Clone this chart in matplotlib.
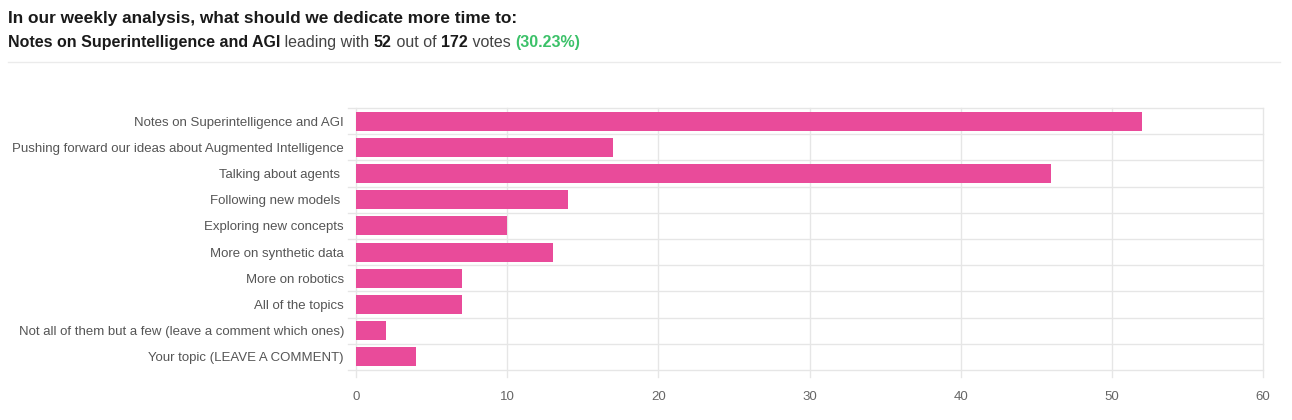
import matplotlib
matplotlib.use("Agg")
import matplotlib.pyplot as plt
from matplotlib.lines import Line2D

categories = [
    "Notes on Superintelligence and AGI",
    "Pushing forward our ideas about Augmented Intelligence",
    "Talking about agents ",
    "Following new models ",
    "Exploring new concepts",
    "More on synthetic data",
    "More on robotics",
    "All of the topics",
    "Not all of them but a few (leave a comment which ones)",
    "Your topic (LEAVE A COMMENT)",
]
votes = [52, 17, 46, 14, 10, 13, 7, 7, 2, 4]
xticks = [0, 10, 20, 30, 40, 50, 60]

title = "In our weekly analysis, what should we dedicate more time to:"
total = sum(votes)
lead = max(votes)
lead_name = categories[votes.index(lead)]

plt.rcParams['font.family'] = ['Liberation Sans', 'DejaVu Sans']

W, H = 1292, 420
fig = plt.figure(figsize=(W / 100, H / 100), dpi=100)
ax = fig.add_axes([356 / W, 1 - 370 / H, (1263 - 356) / W, (370 - 108) / H])

bar_color = "#E94B9A"
grid_color = "#E6E6E6"
n = len(categories)
ypos = list(range(n))
ax.barh(ypos, votes, height=0.72, color=bar_color, zorder=3)
ax.set_ylim(n - 0.5, -0.5)
ax.set_xlim(0, 60)

# grid
for x in xticks:
    ax.add_line(Line2D([x, x], [n - 0.5 + 0.27, -0.5], color=grid_color, lw=1, zorder=1, clip_on=False))
for b in range(n + 1):
    yb = b - 0.5
    ax.add_line(Line2D([-0.55, 60], [yb, yb], color=grid_color, lw=1, zorder=1, clip_on=False))

for s in ax.spines.values():
    s.set_visible(False)
ax.set_xticks(xticks)
ax.set_xticklabels([str(t) for t in xticks])
ax.set_yticks(ypos)
ax.set_yticklabels(categories)
ax.tick_params(axis='both', length=0, colors="#555555")
ax.tick_params(axis='y', labelsize=9.5, pad=8.7, labelcolor="#555555")
ax.tick_params(axis='x', labelsize=9.5, pad=15, labelcolor="#666666")

# header
fig.text(8 / W, 1 - 23.5 / H, title, fontsize=12.4, fontweight='bold', color="#1a1a1a", va='baseline', ha='left')

pieces = [
    (lead_name, 'bold', "#1a1a1a"),
    (" leading with ", 'normal', "#444444"),
    (str(lead), 'bold', "#1a1a1a"),
    (" out of ", 'normal', "#444444"),
    (str(total), 'bold', "#1a1a1a"),
    (" votes ", 'normal', "#444444"),
    ("({:.2f}%)".format(lead / total * 100), 'bold', "#3CC169"),
]
fig.canvas.draw()
renderer = fig.canvas.get_renderer()
xpx = 8
for txt, wt, col in pieces:
    t = fig.text(xpx / W, 1 - 47 / H, txt, fontsize=11.5, fontweight=wt, color=col, va='baseline', ha='left')
    bb = t.get_window_extent(renderer=renderer)
    xpx += bb.width

fig.add_artist(Line2D([8 / W, 1280 / W], [1 - 62 / H, 1 - 62 / H], color="#EBEBEB", lw=1, transform=fig.transFigure))

fig.savefig("out.png", dpi=100, facecolor="white")
